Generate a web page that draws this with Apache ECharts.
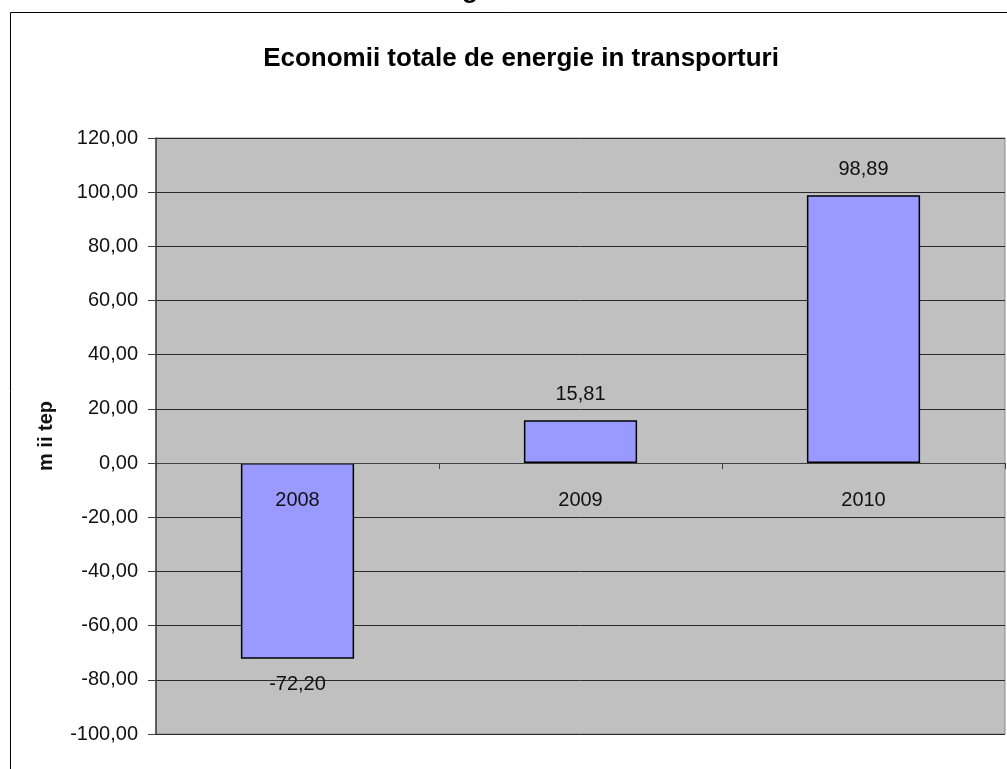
<!DOCTYPE html>
<html>
<head>
<meta charset="utf-8">
<script src="https://cdn.jsdelivr.net/npm/echarts@6/dist/echarts.min.js"></script>
<style>
html,body{margin:0;padding:0;background:#fff;}
#chart{width:1007px;height:769px;}
</style>
</head>
<body>
<div id="chart"></div>
<script>
const titleText = 'Economii totale de energie in transporturi';
const yAxisName = 'm ii tep';
const categories = ['2008', '2009', '2010'];
const values = [-72.20, 15.81, 98.89];
const yMin = -100, yMax = 120, yStep = 20;

const fmt = v => v.toFixed(2).replace('.', ',');
const FONT = '"Liberation Sans", Arial, sans-serif';

const chart = echarts.init(document.getElementById('chart'));
const option = {
  animation: false,
  backgroundColor: '#ffffff',
  title: {
    text: titleText,
    left: 516, top: 41, textAlign: 'center',
    textStyle: { fontFamily: FONT, fontSize: 26, fontWeight: 'bold', color: '#000' }
  },
  graphic: [
    { type: 'rect', shape: { x: 10.5, y: 12.5, width: 1100, height: 900 },
      style: { fill: 'none', stroke: '#000', lineWidth: 1 }, silent: true, z: -1 },
    { type: 'text', x: 470, y: 4,
      style: { text: 'g', font: 'bold 26px ' + FONT, fill: '#000', align: 'center', verticalAlign: 'bottom' } }
  ],
  grid: {
    left: 156, right: 2, top: 138, bottom: 35,
    outerBoundsMode: 'none',
    show: true, backgroundColor: '#C0C0C0', borderColor: '#8a8a8a', borderWidth: 1
  },
  xAxis: {
    type: 'category',
    data: categories,
    z: 10,
    offset: 0,
    axisLine: { onZero: false, lineStyle: { color: '#404040', width: 1 } },
    axisTick: { show: true, length: 6, lineStyle: { color: '#404040' } },
    axisLabel: { margin: 27, fontFamily: FONT, fontSize: 20, color: '#111' },
    splitLine: { show: false }
  },
  yAxis: {
    type: 'value',
    min: yMin, max: yMax, interval: yStep,
    name: yAxisName,
    nameLocation: 'middle',
    nameGap: 100,
    nameTextStyle: { fontFamily: FONT, fontSize: 20, fontWeight: 'bold', color: '#111' },
    axisLine: { show: true, lineStyle: { color: '#404040', width: 1.5 } },
    axisTick: { show: true, length: 8, lineStyle: { color: '#404040' } },
    axisLabel: { margin: 18, fontFamily: FONT, fontSize: 20, color: '#111', formatter: v => fmt(v) },
    splitLine: { show: true, lineStyle: { color: '#2a2a2a', width: 1 } }
  },
  series: [{
    type: 'bar',
    barWidth: '40%',
    data: values.map(v => ({
      value: v,
      label: { position: v < 0 ? 'bottom' : 'top' }
    })),
    itemStyle: { color: '#9999FF', borderColor: '#000', borderWidth: 1.5 },
    label: {
      show: true, distance: 16,
      fontFamily: FONT, fontSize: 20, color: '#111',
      formatter: p => fmt(p.value)
    }
  }]
};
chart.setOption(option);
// Move the category axis up to the zero line using the library's own scale
const zeroY = chart.convertToPixel({ yAxisIndex: 0 }, 0);
const minY = chart.convertToPixel({ yAxisIndex: 0 }, yMin);
chart.setOption({ xAxis: { offset: zeroY - minY } });
</script>
</body>
</html>
